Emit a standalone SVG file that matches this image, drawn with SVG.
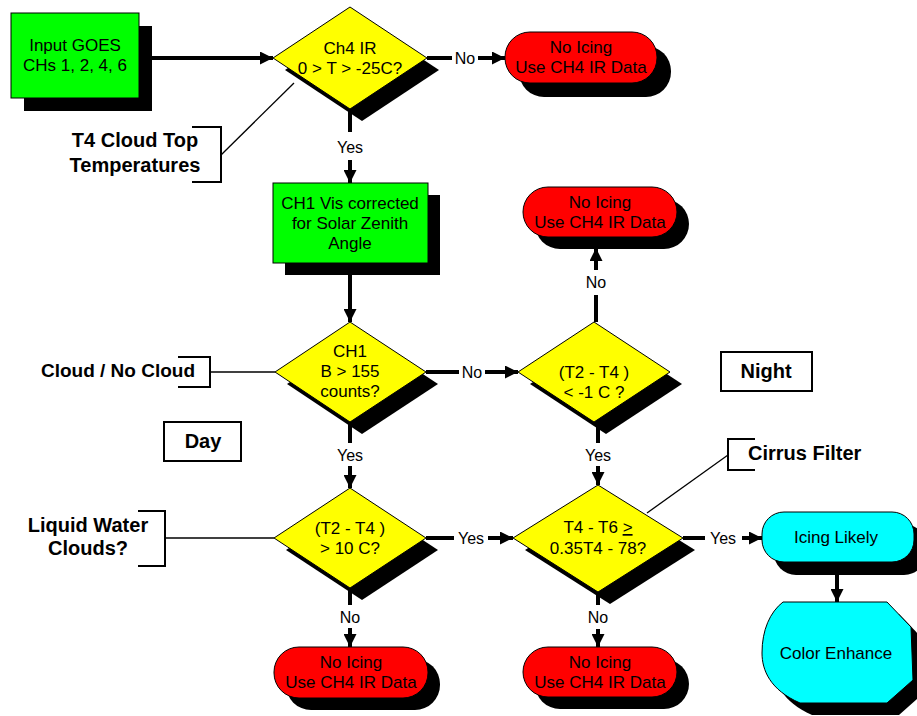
<svg xmlns="http://www.w3.org/2000/svg" width="917" height="716" viewBox="0 0 917 716">
<defs>
<marker id="ah" markerUnits="userSpaceOnUse" markerWidth="14" markerHeight="13" refX="13" refY="6.5" orient="auto"><path d="M0,0 L13,6.5 L0,13 Z" fill="#000"/></marker>
<style>
.sh{fill:#000;stroke:none}
.green{fill:#00ff00;stroke:#000;stroke-width:1}
.yellow{fill:#ffff00;stroke:#000;stroke-width:1}
.red{fill:#ff0000;stroke:#000;stroke-width:1}
.cyan{fill:#00ffff;stroke:#000;stroke-width:1}
.t{font-family:"Liberation Sans",Arial,sans-serif;font-size:17px;fill:#000;text-anchor:middle}
.lbl{font-family:"Liberation Sans",Arial,sans-serif;font-size:16px;fill:#000;text-anchor:middle}
.b{font-family:"Liberation Sans",Arial,sans-serif;font-size:20px;font-weight:bold;fill:#000;text-anchor:middle}
.c{fill:none;stroke:#000;stroke-width:4}
.ca{fill:none;stroke:#000;stroke-width:4;marker-end:url(#ah)}
.br{fill:none;stroke:#000;stroke-width:2}
.thin{fill:none;stroke:#000;stroke-width:1.3}
.box{fill:#fff;stroke:#000;stroke-width:2}
</style>
</defs>
<rect width="917" height="716" fill="#fff"/>

<g id="connectors">
<line class="ca" x1="139" y1="58" x2="273" y2="58"/>
<line class="c" x1="427" y1="58" x2="452" y2="58"/>
<line class="ca" x1="478" y1="58" x2="505" y2="58"/>
<line class="c" x1="350" y1="109" x2="350" y2="132"/>
<line class="ca" x1="350" y1="160" x2="350" y2="183"/>
<line class="ca" x1="350" y1="275" x2="350" y2="322"/>
<line class="c" x1="426" y1="372" x2="459" y2="372"/>
<line class="ca" x1="485" y1="372" x2="518" y2="372"/>
<line class="c" x1="596" y1="322" x2="596" y2="295"/>
<line class="ca" x1="596" y1="270" x2="596" y2="248"/>
<line class="c" x1="350" y1="422" x2="350" y2="443"/>
<line class="ca" x1="350" y1="466" x2="350" y2="488"/>
<line class="c" x1="598" y1="422" x2="598" y2="443"/>
<line class="ca" x1="598" y1="466" x2="598" y2="485"/>
<line class="c" x1="426" y1="538" x2="454" y2="538"/>
<line class="ca" x1="488" y1="538" x2="513" y2="538"/>
<line class="c" x1="350" y1="588" x2="350" y2="605"/>
<line class="ca" x1="350" y1="628" x2="350" y2="647"/>
<line class="c" x1="598" y1="592" x2="598" y2="605"/>
<line class="ca" x1="598" y1="629" x2="598" y2="647"/>
<line class="c" x1="683" y1="538" x2="705" y2="538"/>
<line class="ca" x1="742" y1="538" x2="762" y2="538"/>
<line class="ca" x1="837" y1="574" x2="837" y2="602"/>
<text class="lbl" x="465" y="64">No</text>
<text class="lbl" x="350" y="153">Yes</text>
<text class="lbl" x="472" y="378">No</text>
<text class="lbl" x="596" y="288">No</text>
<text class="lbl" x="350" y="461">Yes</text>
<text class="lbl" x="598" y="461">Yes</text>
<text class="lbl" x="471" y="544">Yes</text>
<text class="lbl" x="350" y="623">No</text>
<text class="lbl" x="598" y="623">No</text>
<text class="lbl" x="723" y="544">Yes</text>
</g>

<g id="input-goes">
<rect class="sh" x="24" y="26" width="128" height="85"/>
<rect class="green" x="11" y="13" width="128" height="85"/>
<text class="t" x="75" y="51">Input GOES</text>
<text class="t" x="75" y="71">CHs 1, 2, 4, 6</text>
</g>

<g id="ch4-ir">
<polygon class="sh" points="285,70 362,19 439,70 362,121"/>
<polygon class="yellow" points="273,58 350,7 427,58 350,109"/>
<text class="t" x="350" y="54">Ch4 IR</text>
<text class="t" x="350" y="74">0 &gt; T &gt; -25C?</text>
</g>

<g id="no-icing-1">
<rect class="sh" x="519" y="46" width="152" height="51" rx="25"/>
<rect class="red" x="505" y="32" width="152" height="51" rx="25"/>
<text class="t" x="581" y="53">No Icing</text>
<text class="t" x="581" y="73">Use CH4 IR Data</text>
</g>

<g id="t4-label">
<path class="br" d="M192,127 H221 V182 H192"/>
<line class="thin" x1="221" y1="155" x2="294" y2="83"/>
<text class="b" x="135" y="147">T4 Cloud Top</text>
<text class="b" x="135" y="172">Temperatures</text>
</g>

<g id="ch1-vis">
<rect class="sh" x="285" y="195" width="155" height="80"/>
<rect class="green" x="273" y="183" width="155" height="80"/>
<text class="t" x="350" y="209">CH1 Vis corrected</text>
<text class="t" x="350" y="229">for Solar Zenith</text>
<text class="t" x="350" y="249">Angle</text>
</g>

<g id="ch1-b">
<polygon class="sh" points="287,384 362,334 438,384 362,434"/>
<polygon class="yellow" points="275,372 350,322 426,372 350,422"/>
<text class="t" x="350" y="357">CH1</text>
<text class="t" x="350" y="377">B &gt; 155</text>
<text class="t" x="350" y="397">counts?</text>
</g>

<g id="cloud-label">
<path class="br" d="M178,357 H210 V387 H178"/>
<line class="thin" x1="210" y1="372" x2="275" y2="372"/>
<text class="b" x="118" y="377" style="font-size:19px">Cloud / No Cloud</text>
</g>

<g id="day">
<rect class="box" x="164" y="422" width="77" height="39"/>
<text class="b" x="203" y="448">Day</text>
</g>

<g id="t2t4-night">
<polygon class="sh" points="530,384 606,334 682,384 606,434"/>
<polygon class="yellow" points="518,372 594,322 670,372 594,422"/>
<text class="t" x="594" y="378">(T2 - T4 )</text>
<text class="t" x="594" y="398">&lt; -1 C ?</text>
</g>

<g id="no-icing-2">
<rect class="sh" x="535" y="199" width="154" height="50" rx="25"/>
<rect class="red" x="523" y="187" width="154" height="50" rx="25"/>
<text class="t" x="600" y="208">No Icing</text>
<text class="t" x="600" y="228">Use CH4 IR Data</text>
</g>

<g id="night">
<rect class="box" x="721" y="352" width="91" height="39"/>
<text class="b" x="766" y="378">Night</text>
</g>

<g id="t2t4-day">
<polygon class="sh" points="286,550 362,500 438,550 362,600"/>
<polygon class="yellow" points="274,538 350,488 426,538 350,588"/>
<text class="t" x="350" y="534">(T2 - T4 )</text>
<text class="t" x="350" y="554">&gt; 10 C?</text>
</g>

<g id="liquid-label">
<path class="br" d="M138,511 H165 V566 H138"/>
<line class="thin" x1="165" y1="538" x2="274" y2="538"/>
<text class="b" x="88" y="532">Liquid Water</text>
<text class="b" x="88" y="555">Clouds?</text>
</g>

<g id="no-icing-3">
<rect class="sh" x="286" y="659" width="154" height="51" rx="25"/>
<rect class="red" x="274" y="647" width="154" height="51" rx="25"/>
<text class="t" x="351" y="668">No Icing</text>
<text class="t" x="351" y="688">Use CH4 IR Data</text>
</g>

<g id="cirrus">
<polygon class="sh" points="525,550 610,497 695,550 610,604"/>
<polygon class="yellow" points="513,538 598,485 683,538 598,592"/>
<text class="t" x="598" y="533">T4 - T6 <tspan text-decoration="underline">&gt;</tspan></text>
<text class="t" x="598" y="554">0.35T4 - 78?</text>
</g>

<g id="cirrus-label">
<path class="br" d="M755,439 H728 V470 H755"/>
<line class="thin" x1="728" y1="455" x2="647" y2="513"/>
<text class="b" x="748" y="460" style="text-anchor:start">Cirrus Filter</text>
</g>

<g id="no-icing-4">
<rect class="sh" x="535" y="659" width="154" height="50" rx="25"/>
<rect class="red" x="523" y="647" width="154" height="50" rx="25"/>
<text class="t" x="600" y="668">No Icing</text>
<text class="t" x="600" y="688">Use CH4 IR Data</text>
</g>

<g id="icing-likely">
<rect class="sh" x="774" y="524" width="152" height="51" rx="22"/>
<rect class="cyan" x="762" y="512" width="152" height="50" rx="22"/>
<text class="t" x="836" y="543">Icing Likely</text>
</g>

<g id="color-enhance">
<path class="sh" d="M795,614 L899,614 L924,640 L925,692 L899,715 L812,715 C782,702 774,682 774,665 C774,642 782,624 795,614 Z"/>
<path class="cyan" d="M783,602 L887,602 L911,627 L913,680 L887,703 L800,703 C770,690 762,670 762,653 C762,630 770,612 783,602 Z"/>
<text class="t" x="836" y="659">Color Enhance</text>
</g>
</svg>
